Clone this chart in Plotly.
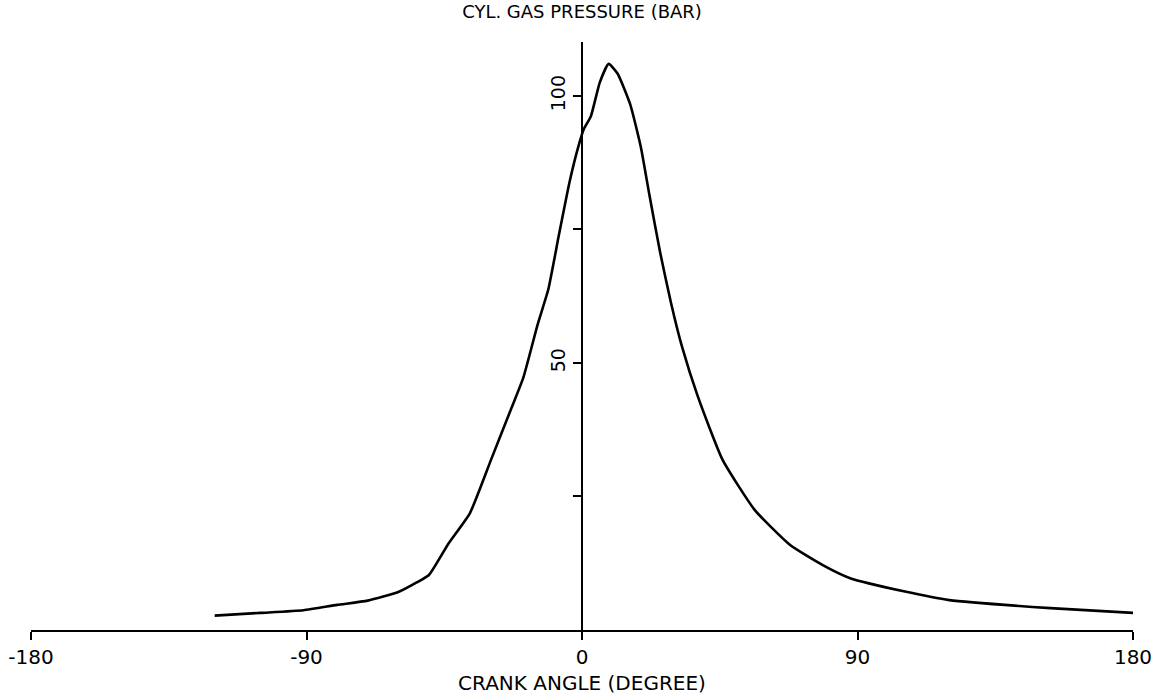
import plotly.graph_objects as go

# Crank angle (degree) and cylinder gas pressure (bar)
crank_angle = [-120, -105, -91, -80, -70, -60, -54, -50, -43.6, -36.6, -29.7, -23.3,
               -19.2, -14.5, -11.0, -7.6, -4.1, -1.2, 0.6, 2.9, 5.8, 8.7, 11.6,
               15.7, 19.2, 22.1, 25.6, 29.1, 32.6, 37.8, 45.9, 56.4, 68.0, 78.5,
               87.6, 105.5, 120, 153, 180]
pressure = [2.7, 3.2, 3.7, 4.7, 5.5, 7.1, 8.9, 10.3, 16.2, 21.9, 31.9, 41.2,
            47.2, 57.2, 63.8, 73.8, 83.8, 90.5, 93.8, 96.2, 102.5, 106.0, 104.2,
            98.5, 90.5, 81.2, 70.5, 61.2, 53.2, 43.8, 31.9, 22.5, 15.9, 12.2,
            9.7, 7.2, 5.6, 4.1, 3.2]

x_tickvals = [-180, -90, 0, 90, 180]
x_ticktext = ["-180", "-90", "0", "90", "180"]
y_tickvals = [25, 50, 75, 100]
y_ticktext = ["", "50", "", "100"]

FONT = "DejaVu Sans"

fig = go.Figure()
fig.add_trace(go.Scatter(
    x=crank_angle, y=pressure, mode="lines",
    line=dict(color="black", width=2.6, shape="spline", smoothing=0.5),
    hoverinfo="skip", showlegend=False,
))

fig.update_layout(
    width=1171, height=699,
    margin=dict(l=31, r=38, t=42, b=69, autoexpand=False),
    paper_bgcolor="white", plot_bgcolor="white",
    title=dict(text="CYL. GAS PRESSURE (BAR)", x=0.5, xref="paper",
               xanchor="center", y=1 - 12 / 699, yref="container",
               yanchor="middle", automargin=False,
               font=dict(family=FONT, size=18, color="black")),
    xaxis=dict(
        range=[-180, 180], tickvals=x_tickvals, ticktext=x_ticktext,
        automargin=False,
        showline=True, linecolor="black", linewidth=2,
        ticks="outside", ticklen=8, tickwidth=2, tickcolor="black",
        showgrid=False, zeroline=False,
        tickfont=dict(family=FONT, size=20, color="black"),
        title=dict(text="CRANK ANGLE (DEGREE)", standoff=8,
                   font=dict(family=FONT, size=20, color="black")),
    ),
    yaxis=dict(
        range=[0, 110.1], tickvals=y_tickvals, ticktext=y_ticktext,
        automargin=False,
        anchor="free", position=0.5, side="left",
        showline=True, linecolor="black", linewidth=2,
        ticks="outside", ticklen=8, tickwidth=2, tickcolor="black",
        showgrid=False, zeroline=False, tickangle=-90,
        tickfont=dict(family=FONT, size=19, color="black"),
    ),
)

fig.write_html("out.html",
               config={"displayModeBar": False, "staticPlot": True},
               post_script="document.body.style.margin='0';document.body.style.overflow='hidden';")
